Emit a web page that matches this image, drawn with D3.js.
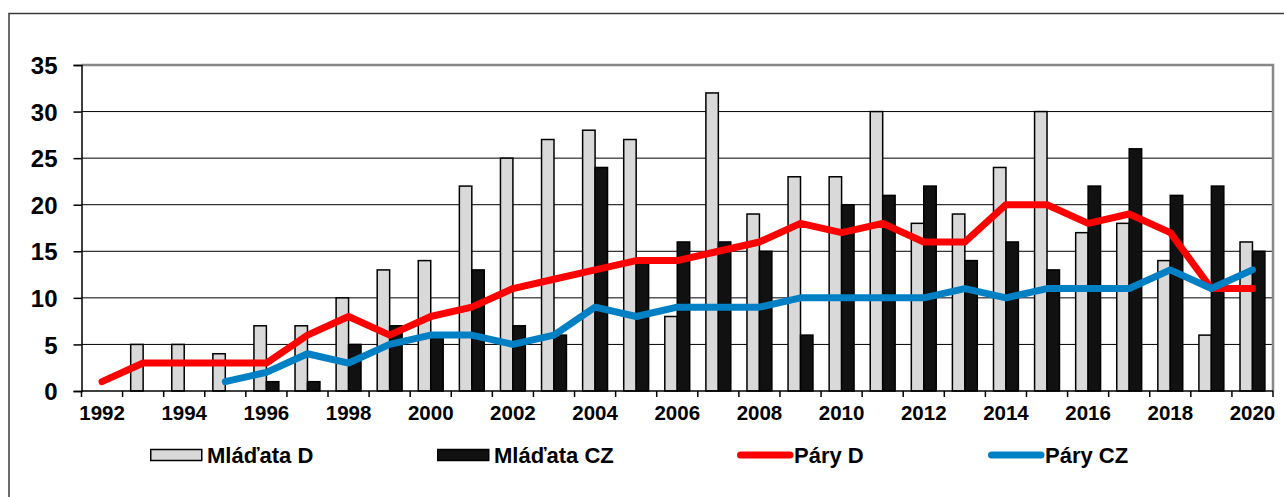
<!DOCTYPE html>
<html>
<head>
<meta charset="utf-8">
<script src="https://cdn.jsdelivr.net/npm/d3@7"></script>
<style>
  body { margin: 0; background: #fff; }
  text { font-family: 'Liberation Sans', Arial, sans-serif; font-weight: bold; fill: #000; }
</style>
</head>
<body>
<div id="chart"></div>
<script>
const years = d3.range(1992, 2021).map(String)
const yTicks = [0, 5, 10, 15, 20, 25, 30, 35]
const xTickLabels = years.filter((d, i) => i % 2 === 0)

// Mláďata D, Mláďata CZ, Páry D, Páry CZ
const mladataD = [0, 5, 5, 4, 7, 7, 10, 13, 14, 22, 25, 27, 28, 27, 8, 32, 19, 23, 23, 30, 18, 19, 24, 30, 17, 18, 14, 6, 16]
const mladataCZ = [0, 0, 0, 0, 1, 1, 5, 7, 6, 13, 7, 6, 24, 14, 16, 16, 15, 6, 20, 21, 22, 14, 16, 13, 22, 26, 21, 22, 15]
const paryD = [1, 3, 3, 3, 3, 6, 8, 6, 8, 9, 11, 12, 13, 14, 14, 15, 16, 18, 17, 18, 16, 16, 20, 20, 18, 19, 17, 11, 11]
const paryCZ = [null, null, null, 1, 2, 4, 3, 5, 6, 6, 5, 6, 9, 8, 9, 9, 9, 10, 10, 10, 10, 11, 10, 11, 11, 11, 13, 11, 13]

const W = 1284, H = 497
const plot = { left: 81.5, right: 1273, top: 65, bottom: 391 }

const svg = d3.select('#chart').append('svg')
  .attr('width', W).attr('height', H)

// outer chart frame (runs off the bottom and right of the picture)
svg.append('rect')
  .attr('x', 9).attr('y', 13.5)
  .attr('width', 1300).attr('height', 600)
  .attr('fill', 'none').attr('stroke', '#3a3a3a').attr('stroke-width', 1.5)

const x = d3.scaleBand().domain(years).range([plot.left, plot.right])
const xSub = d3.scaleBand().domain(['D', 'CZ']).range([0, x.bandwidth()]).paddingOuter(0.65)
const y = d3.scaleLinear().domain([0, 35]).range([plot.bottom, plot.top])

// gridlines
svg.append('g').selectAll('line')
  .data(yTicks.filter(d => d > 0 && d < 35))
  .enter().append('line')
  .attr('x1', plot.left).attr('x2', plot.right)
  .attr('y1', d => y(d)).attr('y2', d => y(d))
  .attr('stroke', '#000').attr('stroke-width', 1)

// plot area border top/right
svg.append('path')
  .attr('d', `M${plot.left},${y(35)}H${plot.right}V${plot.bottom}`)
  .attr('fill', 'none').attr('stroke', '#888').attr('stroke-width', 2.5)

const rows = years.map((yr, i) => ({ year: yr, D: mladataD[i], CZ: mladataCZ[i] }))

const groups = svg.append('g').selectAll('g')
  .data(rows).enter().append('g')
  .attr('transform', d => `translate(${x(d.year)},0)`)

groups.selectAll('rect')
  .data(d => ['D', 'CZ'].map(k => ({ key: k, value: d[k] })).filter(e => e.value > 0))
  .enter().append('rect')
  .attr('x', d => xSub(d.key))
  .attr('width', xSub.bandwidth())
  .attr('y', d => y(d.value))
  .attr('height', d => y(0) - y(d.value))
  .attr('fill', d => d.key === 'D' ? '#d9d9d9' : '#111')
  .attr('stroke', '#000').attr('stroke-width', 1.5)

// axes
const yAxis = d3.axisLeft(y).tickValues(yTicks).tickSize(8).tickPadding(16)
const gy = svg.append('g').attr('transform', `translate(${plot.left},0)`).call(yAxis)
gy.select('.domain').attr('stroke', '#000').attr('stroke-width', 1.5)
gy.selectAll('.tick line').attr('stroke', '#000').attr('stroke-width', 1.5)
gy.selectAll('text').style('font-size', '24px').attr('dy', '0.36em')

const xAxis = d3.axisBottom(x).tickValues(xTickLabels).tickSize(0).tickPadding(14)
const gx = svg.append('g').attr('transform', `translate(0,${plot.bottom})`).call(xAxis)
gx.select('.domain').remove()
gx.selectAll('text').style('font-size', '20.5px')

// x tick marks at category boundaries
svg.append('g').selectAll('line')
  .data(years.concat(['end']))
  .enter().append('line')
  .attr('x1', d => d === 'end' ? plot.right : x(d))
  .attr('x2', d => d === 'end' ? plot.right : x(d))
  .attr('y1', plot.bottom).attr('y2', plot.bottom + 6)
  .attr('stroke', '#000').attr('stroke-width', 1.5)
svg.append('line')
  .attr('x1', plot.left).attr('x2', plot.right)
  .attr('y1', plot.bottom).attr('y2', plot.bottom)
  .attr('stroke', '#000').attr('stroke-width', 1.5)

// lines
const line = d3.line()
  .defined(d => d.v != null)
  .x(d => x(d.year) + x.bandwidth() / 2)
  .y(d => y(d.v))

const series = [
  { name: 'Páry D', values: paryD, color: '#ff0000' },
  { name: 'Páry CZ', values: paryCZ, color: '#0080c4' }
]

series.forEach(s => {
  svg.append('path')
    .datum(years.map((yr, i) => ({ year: yr, v: s.values[i] })))
    .attr('d', line)
    .attr('fill', 'none')
    .attr('stroke', s.color)
    .attr('stroke-width', 7)
    .attr('stroke-linejoin', 'round')
    .attr('stroke-linecap', 'round')
})

// legend
const legendY = 455
const legend = [
  { name: 'Mláďata D', type: 'bar', fill: '#d9d9d9', x: 150 },
  { name: 'Mláďata CZ', type: 'bar', fill: '#111', x: 437 },
  { name: 'Páry D', type: 'line', fill: '#ff0000', x: 737 },
  { name: 'Páry CZ', type: 'line', fill: '#0080c4', x: 988 }
]

const lg = svg.append('g').selectAll('g').data(legend).enter().append('g')
  .attr('transform', d => `translate(${d.x},${legendY})`)

lg.filter(d => d.type === 'bar').append('rect')
  .attr('x', 0.75).attr('y', -5.5).attr('width', 51).attr('height', 11)
  .attr('fill', d => d.fill).attr('stroke', '#000').attr('stroke-width', 1.5)

lg.filter(d => d.type === 'line').append('line')
  .attr('x1', 3.5).attr('x2', 53).attr('y1', 0).attr('y2', 0)
  .attr('stroke', d => d.fill).attr('stroke-width', 7).attr('stroke-linecap', 'round')

lg.append('text')
  .attr('x', 57).attr('y', 0).attr('dy', '0.36em')
  .style('font-size', '22px')
  .text(d => d.name)
</script>
</body>
</html>
